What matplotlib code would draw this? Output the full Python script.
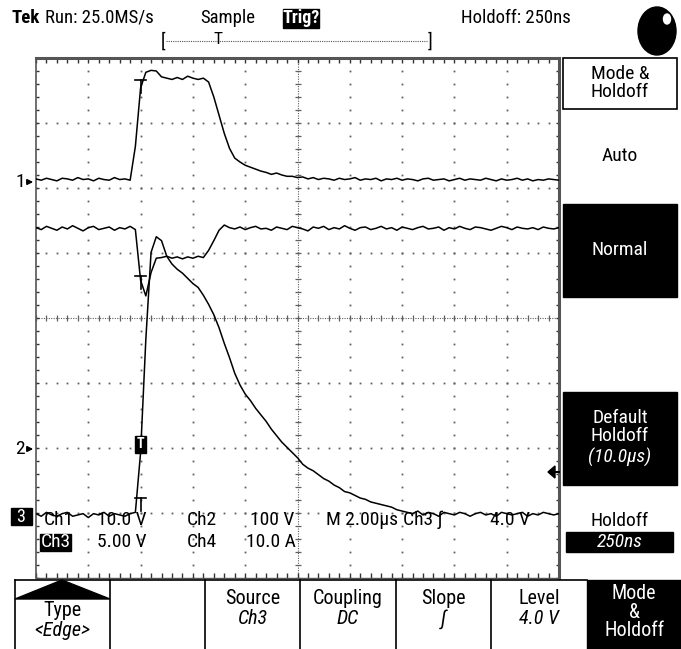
import numpy as np
import matplotlib
matplotlib.use("Agg")
import matplotlib.pyplot as plt
from matplotlib import font_manager
from matplotlib.patches import Rectangle, Ellipse, Polygon

# pick a narrow sans if one is installed (scope readouts use a condensed face)
installed = {f.name for f in font_manager.fontManager.ttflist}
FONT = 'DejaVu Sans'
for fam in ['Roboto Condensed', 'Liberation Sans Narrow', 'Open Sans Condensed', 'Roboto']:
    if fam in installed:
        FONT = fam
        break
plt.rcParams['font.family'] = [FONT, 'DejaVu Sans']

W, H = 681, 649

# ───── time base: 2.00 us/div, trigger 2 div from the left ─────
US_PER_DIV = 2.0
T_LEFT = -4.0
t_us = np.round(np.arange(-4.0, 16.0001, 0.2), 2)

# ───── channel settings (volts per div, ground marker in div) ─────
CH1_VDIV, CH1_GND = 10.0, 2.09
CH2_VDIV, CH2_GND = 100.0, -2.02
CH3_VDIV, CH3_GND = 5.0, -3.03

# ───── sampled waveforms (volts), one value per 0.2 us ─────
ch1_v = [0.5, 0.3, 0.6, 0.4, 0.2, 0.6, 0.5, 0.3, 0.7, 0.4, 0.5, 0.2, 0.6, 0.4, 0.3, 0.7, 0.4, 0.5, 0.3,
         5.5, 14.5, 16.9, 17.2, 17.1, 16.2, 16.0, 15.8, 16.1, 15.8, 16.3, 16.0, 15.8, 16.0,
         15.4, 13.1, 10.3, 7.5, 5.2, 3.7, 3.1, 2.6, 2.3, 2.0, 1.7, 1.5, 1.2, 1.4, 1.1, 0.9, 0.9,
         0.7, 0.8, 0.5, 0.7, 0.4, 0.6, 0.5, 0.3, 0.6, 0.4, 0.5, 0.7, 0.3, 0.5, 0.4, 0.6, 0.2,
         0.5, 0.4, 0.6, 0.3, 0.5, 0.4, 0.2, 0.5, 0.6, 0.3, 0.4, 0.5, 0.2, 0.4, 0.6, 0.3, 0.5,
         0.4, 0.3, 0.6, 0.4, 0.2, 0.5, 0.3, 0.4, 0.6, 0.3, 0.5, 0.2, 0.4, 0.3, 0.5, 0.4, 0.3]
ch2_v = [341, 338, 343, 340, 337, 342, 339, 344, 340, 336, 341, 343, 338, 340, 342, 337, 341, 339, 343,
         338, 260, 236, 272, 294, 295, 297, 294, 296, 293, 296, 294, 297, 295,
         306, 321, 337, 345, 341,
         339, 342, 338, 341, 343, 339, 340, 337, 342, 340, 338, 343, 341, 339, 336, 342, 340,
         343, 338, 341, 339, 344, 340, 337, 341, 342, 338, 340, 343, 339, 341, 337, 342, 340,
         338, 341, 343, 339, 340, 342, 337, 341, 339, 343, 340, 338, 342, 341, 339, 337, 340,
         343, 341, 338, 342, 340, 339, 341, 338, 342, 340, 339, 341]
ch3_v = [0.1, -0.1, 0.2, 0.0, -0.1, 0.1, 0.2, -0.1, 0.0, 0.1, -0.2, 0.1, 0.0, 0.2, -0.1, 0.1, 0.0, -0.1,
         0.1, 0.2, 4.8, 13.5, 20.2, 21.4, 21.1, 19.9, 19.3, 18.9, 18.6, 18.2, 17.8, 17.5, 16.9,
         16.2, 15.4, 14.4, 13.2, 12.1, 10.9, 10.0, 9.3, 8.8, 8.2, 7.7, 7.2, 6.6, 6.1, 5.6, 5.2,
         4.8, 4.4, 3.9, 3.6, 3.4, 3.1, 2.8, 2.6, 2.3, 2.1, 1.8, 1.7, 1.5, 1.3, 1.2, 1.0, 0.9,
         0.8, 0.7, 0.6, 0.4, 0.3,
         0.2, 0.1, 0.3, 0.0, 0.2, 0.1, -0.1, 0.2, 0.1, 0.0, 0.2, 0.1, -0.1, 0.1, 0.2, 0.0,
         0.1, -0.1, 0.2, 0.1, 0.0, 0.1, 0.2, -0.1, 0.1, 0.0, 0.2, 0.1, 0.0, 0.1]

# ───── readout texts ─────
header_items = [("Run: 25.0MS/s", 45), ("Sample", 200), ("Holdoff: 250ns", 461)]
readout_row1 = [("Ch1", 44), ("10.0 V", 97), ("Ch2", 187), ("100 V", 250), ("M 2.00µs", 326),
                ("Ch3 ∫", 403), ("4.0 V", 490)]
readout_row2 = [("5.00 V", 97), ("Ch4", 187), ("10.0 A", 246)]
side_menu = ["Mode &\nHoldoff", "Auto", "Normal", "Default\nHoldoff", "Holdoff"]
bottom_menu = [("Type", "<Edge>"), ("", ""), ("Source", "Ch3"), ("Coupling", "DC"),
               ("Slope", "∫"), ("Level", "4.0 V"), ("Mode\n&\nHoldoff", "")]

FS_HEAD = 13.5
FS = 14
FS_MENU = 14.5
GRID_C = '#606060'

fig = plt.figure(figsize=(W / 100, H / 100), dpi=100)
fig.patch.set_facecolor('white')

# ───── graticule axes (data in us / divisions) ─────
ax = fig.add_axes([36 / W, 1 - 578 / H, 523 / W, 520 / H])
ax.set_xlim(T_LEFT, T_LEFT + 10 * US_PER_DIV)
ax.set_ylim(-4, 4)
ax.axis('off')

x_major = T_LEFT + US_PER_DIV * np.arange(11)
y_major = np.arange(-4, 5)
x_minor = T_LEFT + US_PER_DIV / 5 * np.arange(51)
y_minor = np.linspace(-4, 4, 41)
t_mid = T_LEFT + 5 * US_PER_DIV

for x in x_major[1:-1]:
    if x == t_mid:
        continue
    ax.plot(np.full_like(y_minor, x), y_minor, ls='none', marker='s', ms=1.3, mew=0, color=GRID_C)
for y in y_major[1:-1]:
    if y == 0:
        continue
    ax.plot(x_minor, np.full_like(x_minor, y), ls='none', marker='s', ms=1.3, mew=0, color=GRID_C)

# centre cross with minor ticks
ax.plot([t_mid, t_mid], [-4, 4], ls=(0, (1, 1.2)), lw=0.8, color=GRID_C)
ax.plot([T_LEFT, T_LEFT + 10 * US_PER_DIV], [0, 0], ls=(0, (1, 1.2)), lw=0.8, color=GRID_C)
ax.plot(x_minor, np.zeros_like(x_minor), ls='none', marker='|', ms=5, mew=0.9, color=GRID_C)
ax.plot(np.full_like(y_minor, t_mid), y_minor, ls='none', marker='_', ms=5, mew=0.9, color=GRID_C)

# edge ticks
ax.plot(x_minor, np.full_like(x_minor, 4), ls='none', marker=3, ms=3.5, mew=1, color='#333', clip_on=False)
ax.plot(x_minor, np.full_like(x_minor, -4), ls='none', marker=2, ms=3.5, mew=1, color='#333', clip_on=False)
ax.plot(np.full_like(y_minor, T_LEFT), y_minor, ls='none', marker=1, ms=2.5, mew=1, color='#333', clip_on=False)
ax.plot(np.full_like(y_minor, T_LEFT + 10 * US_PER_DIV), y_minor, ls='none', marker=0, ms=2.5, mew=1,
        color='#333', clip_on=False)

# borders
ax.plot([T_LEFT, T_LEFT + 10 * US_PER_DIV], [4, 4], color='#555', lw=2.2, clip_on=False)
ax.plot([T_LEFT, T_LEFT], [-4, 4], color='#555', lw=1.2, clip_on=False)
ax.plot([T_LEFT + 10 * US_PER_DIV] * 2, [-4, 4], color='#555', lw=2.2, clip_on=False)
ax.plot([T_LEFT, T_LEFT + 10 * US_PER_DIV], [-4, -4], color='#555', lw=1.0, clip_on=False)

# traces
ax.plot(t_us, np.array(ch1_v) / CH1_VDIV + CH1_GND, color='black', lw=1.1, zorder=5)
ax.plot(t_us, np.array(ch2_v) / CH2_VDIV + CH2_GND, color='black', lw=1.1, zorder=5)
ax.plot(t_us, np.array(ch3_v) / CH3_VDIV + CH3_GND, color='black', lw=1.1, zorder=5)

# trigger-point "T" markers on the traces
for ybar in [3.66, 0.65, -2.77]:
    ax.plot([-0.2, 0.2], [ybar, ybar], color='black', lw=1.2, zorder=6)
    ax.plot([0, 0], [ybar, ybar - 0.2], color='black', lw=1.2, zorder=6)
ax.add_patch(Rectangle((-0.22, -2.07), 0.44, 0.26, color='black', zorder=7))
ax.text(0, -1.94, "T", color='white', ha='center', va='center', fontsize=10, fontweight='bold', zorder=8)

# ───── overlay in pixel coordinates ─────
ov = fig.add_axes([0, 0, 1, 1])
ov.set_xlim(0, W)
ov.set_ylim(H, 0)
ov.axis('off')
ov.patch.set_alpha(0)

# header
ov.text(11, 18, "Tek", fontsize=FS_HEAD, fontweight='bold', va='center', ha='left')
for label, x in header_items:
    ov.text(x, 18, label, fontsize=FS_HEAD, va='center', ha='left')
ov.add_patch(Rectangle((283, 9), 36, 19, color='black'))
ov.text(301, 18, "Trig?", fontsize=FS_HEAD - 0.5, fontweight='bold', color='white', va='center', ha='center')
ov.add_patch(Ellipse((657, 31), 38, 48, color='black'))
ov.add_patch(Ellipse((667, 19), 7, 10, color='white'))

# record view bar
ov.plot([166, 427], [41, 41], ls=(0, (1, 1)), lw=0.8, color='#555')
ov.text(163, 42, "[", fontsize=FS_HEAD, va='center', ha='center')
ov.text(430, 42, "]", fontsize=FS_HEAD, va='center', ha='center')
ov.text(218, 40, "T", fontsize=FS_HEAD - 1, va='center', ha='center')

# channel ground markers
ov.text(25, 182, "1", fontsize=FS, va='center', ha='right')
ov.annotate('', xy=(36, 182), xytext=(25, 182),
            arrowprops=dict(arrowstyle='-|>', color='black', lw=1.2, mutation_scale=8))
ov.text(25, 449, "2", fontsize=FS, va='center', ha='right')
ov.annotate('', xy=(36, 449), xytext=(25, 449),
            arrowprops=dict(arrowstyle='-|>', color='black', lw=1.2, mutation_scale=8))
ov.add_patch(Rectangle((11, 508), 21, 17, color='black'))
ov.text(21, 517, "3", fontsize=FS - 1, color='white', va='center', ha='center')

# trigger level arrow on the right edge
ov.add_patch(Polygon([[548, 472], [555, 466], [555, 478]], closed=True, color='black'))
ov.plot([552, 559], [472, 472], color='black', lw=1.5)

# readout lines
for label, x in readout_row1:
    ov.text(x, 520, label, fontsize=FS, va='center', ha='left')
ov.add_patch(Rectangle((40, 534), 31, 17, color='black'))
ov.text(55.5, 542, "Ch3", fontsize=FS, color='white', va='center', ha='center')
for label, x in readout_row2:
    ov.text(x, 542, label, fontsize=FS, va='center', ha='left')

# side menu
ov.add_patch(Rectangle((563, 58), 114, 51, facecolor='white', edgecolor='black', lw=1.2))
ov.text(620, 83, side_menu[0], fontsize=FS, va='center', ha='center', linespacing=1.0)
ov.text(620, 156, side_menu[1], fontsize=FS, va='center', ha='center')
ov.add_patch(Rectangle((563, 204), 114, 93, color='black'))
ov.text(620, 250, side_menu[2], fontsize=FS, color='white', va='center', ha='center')
ov.add_patch(Rectangle((563, 392), 114, 93, color='black'))
ov.text(620, 427, side_menu[3], fontsize=FS, color='white', va='center', ha='center', linespacing=1.0)
ov.text(620, 457, "(10.0µs)", fontsize=FS, color='white', va='center', ha='center', style='italic')
ov.text(620, 521, side_menu[4], fontsize=FS, va='center', ha='center')
ov.add_patch(Rectangle((566, 532), 107, 20, color='black'))
ov.text(620, 542, "250ns", fontsize=FS, color='white', va='center', ha='center', style='italic')

# bottom menu
edges = [15, 110, 205, 300, 396, 491, 587, 681]
ov.plot([15, 587], [580, 580], color='black', lw=1.2)
for x in edges[:-2]:
    ov.plot([x, x], [580, H], color='black', lw=1.2)
ov.add_patch(Polygon([[15, 599], [110, 599], [62, 580]], closed=True, color='black'))
ov.add_patch(Rectangle((587, 580), 94, 69, color='black'))
for i, (top, bot) in enumerate(bottom_menu):
    cx = (edges[i] + edges[i + 1]) / 2
    if i == 0:
        ov.text(cx, 611, top, fontsize=FS_MENU, va='center', ha='center')
        ov.text(cx, 631, bot, fontsize=FS_MENU, va='center', ha='center', style='italic')
    elif i == 6:
        ov.text(cx, 612, top, fontsize=FS_MENU, color='white', va='center', ha='center', linespacing=0.95)
    elif top:
        ov.text(cx, 598, top, fontsize=FS_MENU, va='center', ha='center')
        ov.text(cx, 619, bot, fontsize=FS_MENU, va='center', ha='center', style='italic')

fig.savefig("out.png", dpi=100, facecolor='white')
